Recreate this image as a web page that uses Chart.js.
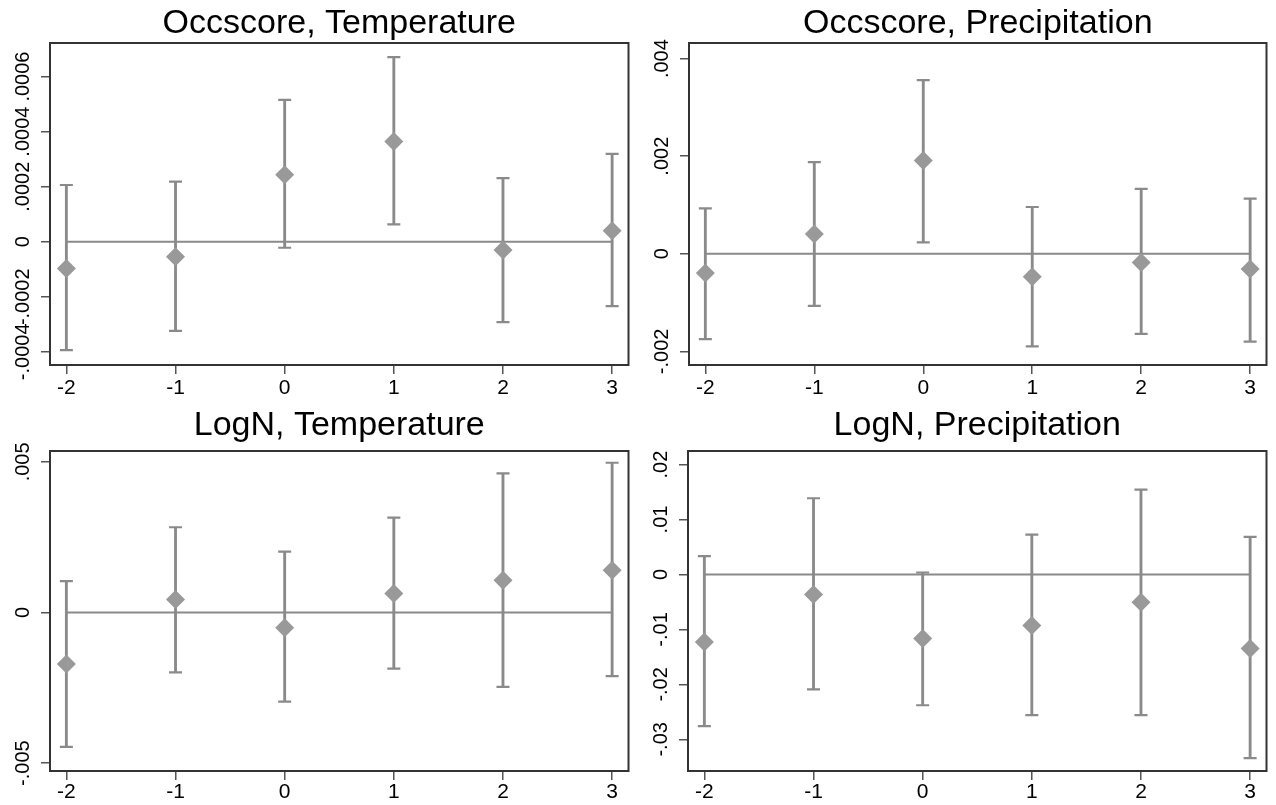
<!DOCTYPE html>
<html>
<head>
<meta charset="UTF-8">
<script src="https://cdn.jsdelivr.net/npm/chart.js"></script>
<style>
  body { margin: 0; background: #fff; }
  .panel { position: absolute; width: 638px; height: 405px; }
</style>
</head>
<body>
<div class="panel" style="left:0;top:0"><canvas id="c1"></canvas></div>
<div class="panel" style="left:638px;top:0"><canvas id="c2"></canvas></div>
<div class="panel" style="left:0;top:400px"><canvas id="c3"></canvas></div>
<div class="panel" style="left:638px;top:400px"><canvas id="c4"></canvas></div>
<script>
// event time (x axis)
const xCats = [-2, -1, 0, 1, 2, 3];
const xRange = [-2.15, 3.15];

// Occscore, Temperature
const occTempCoef = [-0.000097, -0.000055, 0.000243, 0.000364, -0.000030, 0.000040];
const occTempLo   = [-0.000394, -0.000324, -0.000022, 0.000063, -0.000292, -0.000234];
const occTempHi   = [0.000206, 0.000218, 0.000515, 0.000671, 0.000231, 0.000319];
const occTempTicks = [-0.0004, -0.0002, 0, 0.0002, 0.0004, 0.0006];
const occTempRange = [-0.000448, 0.000722];

// Occscore, Precipitation
const occPrecCoef = [-0.000396, 0.000404, 0.00191, -0.000472, -0.000178, -0.000314];
const occPrecLo   = [-0.00175, -0.00107, 0.000232, -0.0019, -0.00164, -0.0018];
const occPrecHi   = [0.00093, 0.00188, 0.00356, 0.000958, 0.00133, 0.00113];
const occPrecTicks = [-0.002, 0, 0.002, 0.004];
const occPrecRange = [-0.00228, 0.00432];

// LogN, Temperature
const lognTempCoef = [-0.00171, 0.00043, -0.00051, 0.00063, 0.00107, 0.0014];
const lognTempLo   = [-0.00446, -0.00199, -0.00296, -0.00186, -0.00247, -0.00211];
const lognTempHi   = [0.00104, 0.00283, 0.00202, 0.00315, 0.00462, 0.00497];
const lognTempTicks = [-0.005, 0, 0.005];
const lognTempRange = [-0.00526, 0.00536];

// LogN, Precipitation
const lognPrecCoef = [-0.0123, -0.00364, -0.01164, -0.00927, -0.00504, -0.01345];
const lognPrecLo   = [-0.0276, -0.0209, -0.0238, -0.0256, -0.0256, -0.0334];
const lognPrecHi   = [0.00333, 0.01387, 0.00036, 0.00727, 0.01545, 0.00684];
const lognPrecTicks = [-0.03, -0.02, -0.01, 0, 0.01, 0.02];
const lognPrecRange = [-0.03576, 0.02247];

const FONT = '"Liberation Sans", Arial, sans-serif';
const barColor = '#8a8a8a';
const markColor = '#999999';
const PANEL_H = 405;

// stata style: .002, -.0004, 0
function fmt(v) {
    if (Math.abs(v) < 1e-12) return '0';
    return String(+v.toFixed(6)).replace('0.', '.');
}

const framePlugin = {
    id: 'frame',
    afterDraw(chart) {
        const a = chart.chartArea, ctx = chart.ctx;
        ctx.save();
        ctx.strokeStyle = '#333';
        ctx.lineWidth = 2;
        ctx.strokeRect(a.left, a.top, a.right - a.left, a.bottom - a.top);
        ctx.restore();
    }
};

const yLabelPlugin = {
    id: 'yLabels',
    afterDraw(chart) {
        const ctx = chart.ctx, ys = chart.scales.y;
        ctx.save();
        ctx.font = '20px ' + FONT;
        ctx.fillStyle = '#000';
        ctx.textAlign = 'center';
        ctx.textBaseline = 'middle';
        ys.ticks.forEach(t => {
            ctx.save();
            ctx.translate(chart.chartArea.left - 27, ys.getPixelForValue(t.value));
            ctx.rotate(-Math.PI / 2);
            ctx.fillText(fmt(t.value), 0, 0);
            ctx.restore();
        });
        ctx.restore();
    }
};

const titlePlugin = {
    id: 'panelTitle',
    afterDraw(chart, args, opts) {
        const a = chart.chartArea, ctx = chart.ctx;
        ctx.save();
        ctx.font = '34px ' + FONT;
        ctx.fillStyle = '#000';
        ctx.textAlign = 'center';
        ctx.textBaseline = 'alphabetic';
        ctx.fillText(opts.text, (a.left + a.right) / 2, a.top - opts.gap);
        ctx.restore();
    }
};

function makePanel(id, title, coef, lo, hi, yTicks, yRange, frame) {
    const pts = xCats.map((x, i) => ({ x: x, y: coef[i] }));
    const caps = xCats.map((x, i) => ({ x: x, y: lo[i] }))
        .concat(xCats.map((x, i) => ({ x: x, y: hi[i] })));
    const bars = xCats.map((x, i) => ({ x: x, y: [lo[i], hi[i]] }));
    const zero = [{ x: xCats[0], y: 0 }, { x: xCats[xCats.length - 1], y: 0 }];
    const axisGrid = { offset: false, drawOnChartArea: false, drawTicks: true, tickLength: 9,
                       color: '#555', lineWidth: 1.5 };

    return new Chart(document.getElementById(id), {
        type: 'scatter',
        data: {
            datasets: [
                { type: 'scatter', data: pts, pointStyle: 'rectRot', pointRadius: 9.5,
                  backgroundColor: markColor, borderWidth: 0 },
                { type: 'scatter', data: caps, pointStyle: 'line', pointRadius: 6.5,
                  borderColor: barColor, borderWidth: 2.2 },
                { type: 'bar', data: bars, barThickness: 2.2, backgroundColor: barColor,
                  borderWidth: 0, grouped: false },
                { type: 'line', data: zero, borderColor: barColor, borderWidth: 2,
                  pointRadius: 0 }
            ]
        },
        options: {
            responsive: true,
            maintainAspectRatio: false,
            animation: false,
            layout: { padding: { left: 0, top: frame.top, right: 638 - frame.right, bottom: 0 } },
            plugins: {
                legend: { display: false },
                tooltip: { enabled: false },
                panelTitle: { text: title, gap: frame.titleGap }
            },
            scales: {
                x: {
                    type: 'linear', min: xRange[0], max: xRange[1], offset: false,
                    afterBuildTicks: ax => { ax.ticks = xCats.map(v => ({ value: v })); },
                    afterFit: ax => { ax.height = PANEL_H - frame.bottom; },
                    border: { display: false },
                    grid: axisGrid,
                    ticks: { color: '#000', font: { family: FONT, size: 21 }, padding: frame.labelPad,
                             maxRotation: 0, autoSkip: false }
                },
                y: {
                    type: 'linear', min: yRange[0], max: yRange[1],
                    afterBuildTicks: ax => { ax.ticks = yTicks.map(v => ({ value: v })); },
                    afterFit: ax => { ax.width = frame.left; },
                    border: { display: false },
                    grid: axisGrid,
                    ticks: { display: false }
                }
            }
        },
        plugins: [framePlugin, yLabelPlugin, titlePlugin]
    });
}

makePanel('c1', 'Occscore, Temperature', occTempCoef, occTempLo, occTempHi, occTempTicks, occTempRange,
    { left: 50, top: 43, right: 637, bottom: 365, titleGap: 10, labelPad: 2 });
makePanel('c2', 'Occscore, Precipitation', occPrecCoef, occPrecLo, occPrecHi, occPrecTicks, occPrecRange,
    { left: 51, top: 43, right: 635, bottom: 365, titleGap: 10, labelPad: 2 });
makePanel('c3', 'LogN, Temperature', lognTempCoef, lognTempLo, lognTempHi, lognTempTicks, lognTempRange,
    { left: 50, top: 51, right: 637, bottom: 371, titleGap: 16, labelPad: 0 });
makePanel('c4', 'LogN, Precipitation', lognPrecCoef, lognPrecLo, lognPrecHi, lognPrecTicks, lognPrecRange,
    { left: 50, top: 51, right: 635, bottom: 371, titleGap: 16, labelPad: 0 });
</script>
</body>
</html>
